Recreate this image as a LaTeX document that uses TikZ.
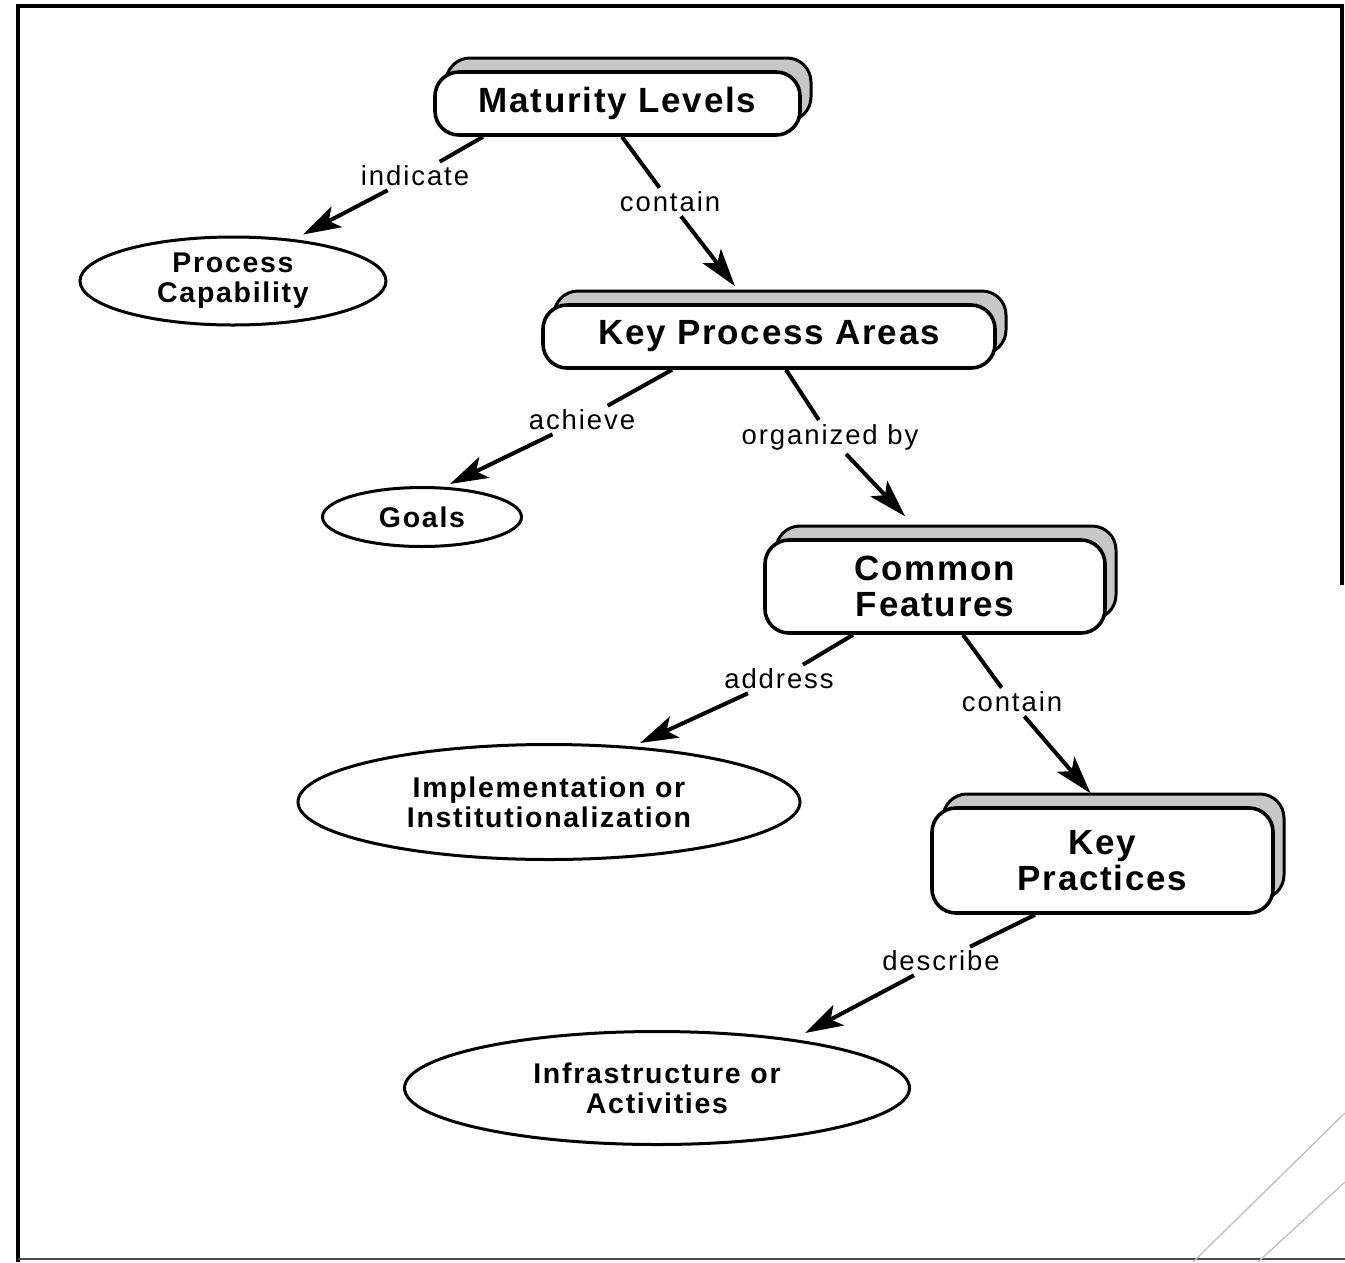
\documentclass[tikz,border=0pt]{standalone}
\usepackage{fontspec}
\setmainfont{Liberation Sans}
\newfontfamily\conceptfont[LetterSpace=5]{Liberation Sans}
\newfontfamily\ovalfont[LetterSpace=6]{Liberation Sans}
\newfontfamily\relationfont[LetterSpace=7]{Liberation Sans}
\usetikzlibrary{arrows.meta,shapes.geometric,shadows}

\begin{document}
\begin{tikzpicture}[x=1pt,y=-1pt,
  concept/.style={draw, line width=3.6pt, rounded corners=24pt, fill=white,
    align=center, inner sep=0pt,
    font=\conceptfont\bfseries\fontsize{35}{36}\selectfont,
    copy shadow={shadow xshift=11pt, shadow yshift=14pt,
      fill=black!22, draw=black, line width=3pt}},
  oval/.style={draw, ellipse, line width=3pt, fill=white, align=center,
    inner sep=0pt, font=\ovalfont\bfseries\fontsize{28.5}{30}\selectfont},
  relation/.style={inner sep=4pt, font=\relationfont\fontsize{27.5}{30}\selectfont},
  link/.style={line width=4pt},
  arrowlink/.style={link, -{Stealth[length=38pt,width=23pt,inset=9pt]}}
]
% page and frame
\fill[white] (0,0) rectangle (1345,1262);
\useasboundingbox (0,0) rectangle (1345,1262);
\draw[line width=4pt, line join=miter] (18,1262) -- (18,6) -- (1342,6) -- (1342,585);
\draw[line width=1.8pt, black!70] (18,1259) -- (1345,1259);
\draw[black!25, line width=1.3pt] (1193,1262) -- (1345,1113);
\draw[black!25, line width=1.3pt] (1258,1262) -- (1345,1182);

% concepts
\node[concept, minimum width=365pt, minimum height=63pt] (ml) at (617.5,103.5) {Maturity Levels};
\node[concept, minimum width=452pt, minimum height=63pt] (kpa) at (769,336.5) {Key Process Areas};
\node[concept, minimum width=340pt, minimum height=93pt] (cf) at (935,586.5) {Common\\Features};
\node[concept, minimum width=341pt, minimum height=105pt] (kp) at (1102.5,860.5) {Key\\Practices};

\node[oval, minimum width=306pt, minimum height=88pt] (pc) at (233,281) {Process\\Capability};
\node[oval, minimum width=199pt, minimum height=59pt] (goals) at (422,517) {Goals};
\node[oval, minimum width=502pt, minimum height=115pt] (impl) at (549,802) {Implementation or\\Institutionalization};
\node[oval, minimum width=505pt, minimum height=113pt] (infra) at (657,1088) {Infrastructure or\\Activities};

% relation labels
\node[relation] (r-ind) at (415,176) {indicate};
\node[relation] (r-con1) at (670,202) {contain};
\node[relation] (r-ach) at (582,420) {achieve};
\node[relation] (r-org) at (830,437) {organized by};
\node[relation] (r-adr) at (779,679) {address};
\node[relation] (r-con2) at (1012,702) {contain};
\node[relation] (r-des) at (941,961) {describe};

% connectors
\draw[link] ([xshift=-134.5pt]ml.south) -- (r-ind);
\draw[arrowlink] (r-ind) -- ([shift={(70,-1)}]pc.north);

\draw[link] ([xshift=4.5pt]ml.south) -- (r-con1);
\draw[arrowlink] (r-con1) -- ([shift={(-34,-17)}]kpa.north);

\draw[link] ([xshift=-97pt]kpa.south) -- (r-ach);
\draw[arrowlink] (r-ach) -- ([shift={(28,-2)}]goals.north);

\draw[link] ([xshift=17pt]kpa.south) -- (r-org);
\draw[arrowlink] (r-org) -- ([shift={(-30,-22)}]cf.north);

\draw[link] ([xshift=-82pt]cf.south) -- (r-adr);
\draw[arrowlink] (r-adr) -- ([shift={(91,0)}]impl.north);

\draw[link] ([xshift=28pt]cf.south) -- (r-con2);
\draw[arrowlink] (r-con2) -- ([shift={(-12,-13)}]kp.north);

\draw[link] ([xshift=-67.5pt]kp.south) -- (r-des);
\draw[arrowlink] (r-des) -- ([shift={(148,3)}]infra.north);
\end{tikzpicture}
\end{document}
